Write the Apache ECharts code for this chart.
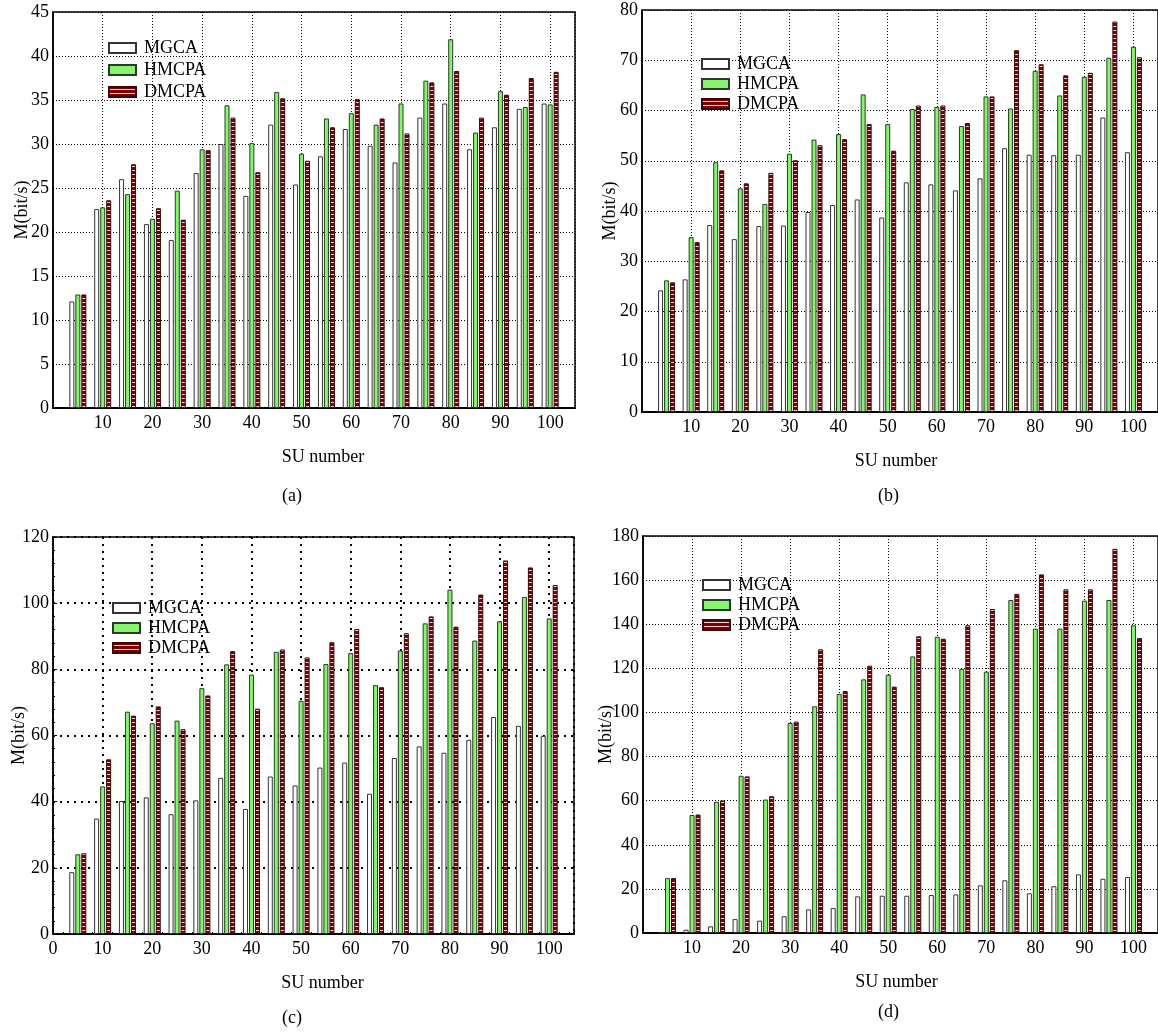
<!DOCTYPE html>
<html>
<head>
<meta charset="utf-8">
<script src="https://cdn.jsdelivr.net/npm/echarts@6/dist/echarts.min.js"></script>
<style>
  html, body { margin: 0; padding: 0; background: #fff; }
  #chart { width: 1158px; height: 1032px; }
</style>
</head>
<body>
<div id="chart"></div>
<script>
// Number of secondary users at which each algorithm was evaluated
const suNumbers = [5, 10, 15, 20, 25, 30, 35, 40, 45, 50, 55, 60, 65, 70, 75, 80, 85, 90, 95, 100];
const seriesNames = ['MGCA', 'HMCPA', 'DMCPA'];
const panelLabels = ['(a)', '(b)', '(c)', '(d)'];

// Panel (a)
const mgcaA  = [12.1, 22.6, 26.0, 20.9, 19.1, 26.7, 30.0, 24.1, 32.2, 25.4, 28.6, 31.7, 29.8, 27.9, 33.0, 34.6, 29.4, 31.9, 34.0, 34.6];
const hmcpaA = [12.9, 22.8, 24.3, 21.5, 24.7, 29.4, 34.4, 30.1, 35.9, 28.9, 32.9, 33.5, 32.2, 34.6, 37.2, 41.9, 31.3, 36.0, 34.2, 34.5];
const dmcpaA = [12.9, 23.6, 27.7, 22.7, 21.4, 29.3, 33.0, 26.8, 35.2, 28.1, 31.9, 35.1, 32.9, 31.2, 37.0, 38.3, 33.0, 35.6, 37.5, 38.2];

// Panel (b)
const mgcaB  = [24.2, 26.4, 37.2, 34.4, 37.0, 37.1, 39.8, 41.2, 42.3, 38.7, 45.7, 45.3, 44.1, 46.5, 52.5, 51.2, 51.1, 51.2, 58.6, 51.7];
const hmcpaB = [26.2, 34.8, 49.7, 44.5, 41.4, 51.4, 54.2, 55.3, 63.2, 57.3, 60.3, 60.7, 56.9, 62.8, 60.4, 67.9, 63.0, 66.7, 70.5, 72.7];
const dmcpaB = [25.8, 33.8, 48.1, 45.5, 47.6, 50.1, 53.1, 54.3, 57.3, 52.0, 61.0, 61.0, 57.5, 62.8, 72.0, 69.2, 67.0, 67.5, 77.7, 70.6];

// Panel (c)
const mgcaC  = [18.7, 34.9, 40.2, 41.3, 36.2, 40.4, 47.2, 37.8, 47.6, 44.9, 50.3, 51.8, 42.4, 53.2, 56.7, 54.8, 58.7, 65.6, 62.9, 59.9];
const hmcpaC = [24.1, 44.6, 67.2, 63.7, 64.5, 74.3, 81.5, 78.4, 85.3, 70.5, 81.6, 84.9, 75.2, 85.7, 93.9, 104.1, 88.7, 94.5, 101.9, 95.4];
const dmcpaC = [24.4, 52.8, 66.0, 68.8, 61.9, 72.1, 85.5, 68.1, 86.0, 83.6, 88.2, 92.2, 74.6, 90.9, 96.0, 92.9, 102.6, 112.9, 110.8, 105.5];

// Panel (d)
const mgcaD  = [0.2, 1.5, 3.0, 6.3, 5.6, 7.6, 10.7, 11.3, 16.6, 16.9, 16.9, 17.2, 17.5, 21.6, 23.9, 18.0, 21.2, 26.6, 24.6, 25.4];
const hmcpaD = [24.9, 53.5, 59.5, 71.3, 60.5, 95.2, 102.8, 108.4, 115.0, 117.1, 125.4, 134.3, 119.7, 118.5, 151.0, 138.0, 138.0, 150.7, 151.0, 139.5];
const dmcpaD = [24.9, 53.7, 60.1, 71.0, 62.0, 95.8, 128.6, 109.7, 121.2, 111.7, 134.5, 133.4, 139.5, 146.9, 153.8, 162.6, 155.8, 155.8, 174.2, 133.7];

// Y-axis ranges per panel
const yMax      = [45, 80, 120, 180];
const yInterval = [5, 10, 20, 20];

const FONT = "'Liberation Serif', 'Times New Roman', serif";

// Dark red fill with light dashes for DMCPA
function dashPattern() {
  const c = document.createElement('canvas');
  c.width = 4; c.height = 4;
  const g = c.getContext('2d');
  g.fillStyle = '#7c0000';
  g.fillRect(0, 0, 4, 4);
  g.fillStyle = '#f0d6d6';
  g.fillRect(0, 2, 4, 1);
  return c;
}
const redFill = { image: dashPattern(), repeat: 'repeat' };

const styles = [
  { color: '#ffffff', borderColor: '#333', borderWidth: 1 },
  { color: '#86f46c', borderColor: '#2a3a2a', borderWidth: 1 },
  { color: redFill, borderColor: '#3a0808', borderWidth: 1 }
];

const panels = [
  { data: [mgcaA, hmcpaA, dmcpaA], grid: { left: 53, top: 12, width: 522, height: 396 },
    legend: { left: 103, top: 34, gap: 4 }, caption: [282, 497], nameShift: 9, yNameGap: 22,
    showZero: false, coarse: false },
  { data: [mgcaB, hmcpaB, dmcpaB], grid: { left: 642, top: 10, width: 517, height: 402 },
    legend: { left: 696, top: 50, gap: 2 }, caption: [878, 497], nameShift: -4, yNameGap: 23,
    showZero: false, coarse: false },
  { data: [mgcaC, hmcpaC, dmcpaC], grid: { left: 53, top: 537, width: 521, height: 397 },
    legend: { left: 107, top: 594, gap: 2 }, caption: [282, 1019], nameShift: 9, yNameGap: 25,
    showZero: true, coarse: true },
  { data: [mgcaD, hmcpaD, dmcpaD], grid: { left: 643, top: 536, width: 517, height: 397 },
    legend: { left: 697, top: 571, gap: 2 }, caption: [878, 1013], nameShift: -4, yNameGap: 28,
    showZero: false, coarse: false }
];

const grids = [], xAxes = [], yAxes = [], series = [], legends = [], graphics = [];

panels.forEach((p, i) => {
  const gridLine = p.coarse
    ? { color: '#000', width: 2, type: [2, 5] }
    : { color: '#000', width: 1, type: [1, 2] };

  grids.push(Object.assign({ show: true, borderColor: '#000', borderWidth: 1.5, backgroundColor: 'transparent' }, p.grid));

  const shift = p.nameShift;
  xAxes.push({
    type: 'value', gridIndex: i, min: 0, max: 105, interval: 10,
    name: 'SU number', nameLocation: 'middle', nameGap: 40, nameMoveOverlap: false,
    nameTextStyle: { fontSize: 18, fontFamily: FONT, color: '#000',
                     padding: shift >= 0 ? [0, 0, 0, 2 * shift] : [0, -2 * shift, 0, 0] },
    axisLine: { show: true, onZero: false, lineStyle: { color: '#000', width: 2 } },
    axisTick: { show: p.coarse, inside: true, length: 4, lineStyle: { color: '#000' } },
    minorTick: { show: p.coarse, splitNumber: 5, length: 2, lineStyle: { color: '#000' } },
    axisLabel: { fontSize: 18, fontFamily: FONT, color: '#000', margin: 6,
                 showMinLabel: p.showZero, showMaxLabel: false },
    splitLine: { show: true, lineStyle: gridLine }
  });

  yAxes.push({
    type: 'value', gridIndex: i, min: 0, max: yMax[i], interval: yInterval[i],
    name: 'M(bit/s)', nameLocation: 'middle', nameGap: p.yNameGap, nameMoveOverlap: false,
    nameTextStyle: { fontSize: 18, fontFamily: FONT, color: '#000' },
    axisLine: { show: true, lineStyle: { color: '#000', width: 1.5 } },
    axisTick: { show: p.coarse, inside: true, length: 4, lineStyle: { color: '#000' } },
    minorTick: { show: p.coarse, splitNumber: 5, length: 2, lineStyle: { color: '#000' } },
    axisLabel: { fontSize: 18, fontFamily: FONT, color: '#000', margin: 4 },
    splitLine: { show: true, lineStyle: gridLine }
  });

  p.data.forEach((vals, k) => {
    series.push({
      type: 'bar', name: seriesNames[k], xAxisIndex: i, yAxisIndex: i,
      data: suNumbers.map((x, j) => [x, vals[j]]),
      barWidth: 5, barGap: '20%',
      itemStyle: styles[k],
      animation: false
    });
  });

  legends.push({
    orient: 'vertical', left: p.legend.left, top: p.legend.top,
    itemWidth: 27, itemHeight: 10, itemGap: p.legend.gap,
    selectedMode: false, icon: 'rect',
    textStyle: { fontSize: 18, fontFamily: FONT, color: '#000', lineHeight: 18, padding: [0, 0, 0, 3] },
    data: seriesNames
  });

  graphics.push({
    type: 'text', left: p.caption[0], top: p.caption[1] - 10,
    style: { text: panelLabels[i], fontSize: 18, fontFamily: FONT, fill: '#000' }
  });
});

const chart = echarts.init(document.getElementById('chart'), null, { renderer: 'canvas' });
chart.setOption({
  backgroundColor: '#fff',
  animation: false,
  grid: grids,
  xAxis: xAxes,
  yAxis: yAxes,
  legend: legends,
  series: series,
  graphic: graphics
});
</script>
</body>
</html>
